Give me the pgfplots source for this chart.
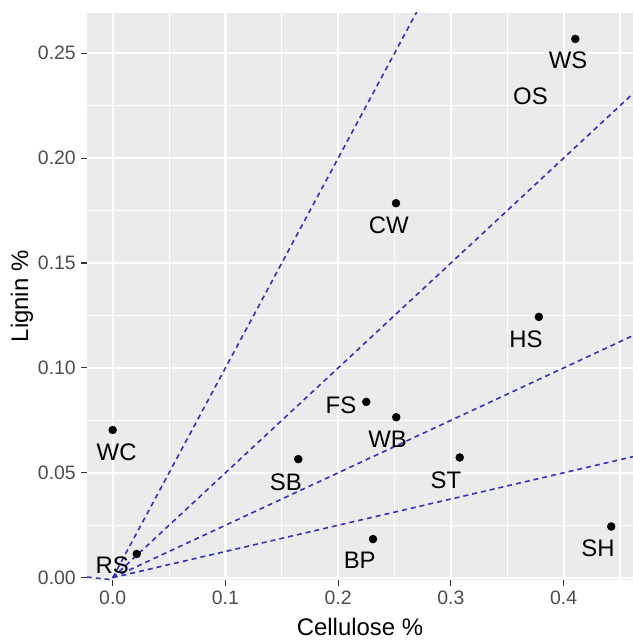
\documentclass[border=0pt]{standalone}
\usepackage{pgfplots}
\pgfplotsset{compat=1.18}
\usepackage{fontspec}
\setmainfont{Liberation Sans}
\definecolor{panelbg}{HTML}{EBEBEB}
\definecolor{ticklab}{HTML}{4D4D4D}
\definecolor{tickcol}{HTML}{333333}
\definecolor{refline}{RGB}{50,50,180}

\pgfplotstableread{
x y
0.4103 0.2568
0.2513 0.1785
0.3780 0.1243
0.2249 0.0838
0.2515 0.0765
0.3078 0.0573
0.4422 0.0244
0.2309 0.0184
0.1646 0.0565
0.0000 0.0704
0.0213 0.0113
}\pointdata

\pgfplotstableread{
x y label
0.4039 0.2464 WS
0.3706 0.2297 OS
0.2449 0.1678 CW
0.3666 0.1137 HS
0.2025 0.0823 FS
0.2439 0.0660 WB
0.2956 0.0462 ST
0.2191 0.0081 BP
0.4304 0.0138 SH
0.1535 0.0454 SB
0.0035 0.0597 WC
-0.0004 0.0057 RS
}\labeldata

\begin{document}
\begin{tikzpicture}
\useasboundingbox (-87bp,-60bp) rectangle (546bp,580bp);
\begin{axis}[
  at={(0,0)}, anchor=south west,
  scale only axis, width=546bp, height=567.3bp,
  xmin=-0.0228, xmax=0.4615, ymin=-0.0011, ymax=0.2693,
  axis line style={draw=none},
  axis background/.style={fill=panelbg},
  xtick={0,0.1,0.2,0.3,0.4},
  ytick={0,0.05,0.10,0.15,0.20,0.25},
  minor xtick={0.05,0.15,0.25,0.35,0.45},
  minor ytick={0.025,0.075,0.125,0.175,0.225},
  grid=both,
  major grid style={white, line width=2.2bp},
  minor grid style={white, line width=1.1bp},
  tick align=outside,
  major tick length=6bp, minor tick length=0pt,
  tick style={tickcol, line width=1.1bp},
  xtick pos=bottom, ytick pos=left,
  ticklabel style={font=\fontsize{19.5}{22}\selectfont, text=ticklab, inner sep=0pt},
  xticklabel shift=5bp, yticklabel shift=5bp,
  x tick label style={/pgf/number format/.cd, fixed, fixed zerofill, precision=1, /tikz/.cd},
  y tick label style={/pgf/number format/.cd, fixed, fixed zerofill, precision=2, /tikz/.cd},
  /pgf/number format/assume math mode=true,
  xlabel={Cellulose \%}, ylabel={Lignin \%},
  label style={font=\fontsize{24}{28}\selectfont, inner sep=0pt, text=black},
  xlabel style={at={(axis description cs:0.5,-0.0975)}, anchor=base},
  ylabel style={at={(axis description cs:-0.119,0.5)}, anchor=center},
]
\addplot[refline, line width=1.6bp, dash pattern=on 5bp off 4bp] coordinates {(0,0) (0.28,0.28)};
\addplot[refline, line width=1.6bp, dash pattern=on 5bp off 4bp] coordinates {(0,0) (0.47,0.235)};
\addplot[refline, line width=1.6bp, dash pattern=on 5bp off 4bp] coordinates {(0,0) (0.47,0.1175)};
\addplot[refline, line width=1.6bp, dash pattern=on 5bp off 4bp] coordinates {(0,0) (0.47,0.05875)};
\addplot[refline, line width=1.6bp, dash pattern=on 5bp off 4bp] coordinates {(-0.023,0.0003) (0,-0.001)};
\addplot[only marks, mark=*, mark size=4bp, black] table[x=x, y=y] {\pointdata};
\addplot[draw=none, mark=none, nodes near coords, point meta=explicit symbolic,
  nodes near coords style={anchor=center, inner sep=0pt, text=black, font=\fontsize{24}{28}\selectfont}]
  table[x=x, y=y, meta=label] {\labeldata};
\end{axis}
\end{tikzpicture}
\end{document}
